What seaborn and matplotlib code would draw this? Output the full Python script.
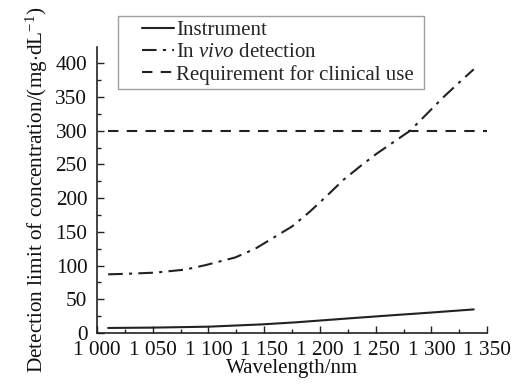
import matplotlib
matplotlib.use("Agg")
import matplotlib.pyplot as plt
from matplotlib.ticker import MultipleLocator, FuncFormatter
from matplotlib.legend_handler import HandlerLine2D
from matplotlib.lines import Line2D
import seaborn as sns
import pandas as pd

# Data
inst_wl = [1010, 1050, 1100, 1148, 1178, 1226, 1268, 1297, 1338]
inst_val = [7.5, 8, 9.4, 12.8, 15.8, 21.7, 26.7, 30, 35]

vivo_wl = [1010, 1030, 1052, 1079, 1097, 1124, 1142, 1160, 1175, 1191, 1206,
           1221, 1236, 1251, 1266, 1281, 1296, 1311, 1324, 1338]
vivo_val = [87, 88, 89.5, 94, 100.5, 112, 125, 143, 158, 180, 203,
            227, 247, 266, 283, 300, 325, 350, 370, 391]

req_wl = [1010, 1350]
req_val = [300, 300]

labels = ["Instrument", "In $\\it{vivo}$ detection", "Requirement for clinical use "]

sns.set_theme(style="ticks")
plt.rcParams['font.family'] = ['Liberation Serif', 'DejaVu Serif']
plt.rcParams['mathtext.fontset'] = 'custom'
plt.rcParams['mathtext.rm'] = 'Liberation Serif'
plt.rcParams['mathtext.it'] = 'Liberation Serif:italic'

fig = plt.figure(figsize=(5.16, 3.87), dpi=100)
ax = fig.add_axes([0.188, 0.1395, 0.756, 0.739])

df_i = pd.DataFrame({"x": inst_wl, "y": inst_val})
df_v = pd.DataFrame({"x": vivo_wl, "y": vivo_val})
df_r = pd.DataFrame({"x": req_wl, "y": req_val})

col = "#222222"
fs = 15
tfs = 15.3
sns.lineplot(data=df_i, x="x", y="y", ax=ax, color=col, lw=1.5, label=labels[0])
sns.lineplot(data=df_v, x="x", y="y", ax=ax, color=col, lw=1.5, label=labels[1])
ax.lines[-1].set_dashes([7, 3, 1.5, 3])
sns.lineplot(data=df_r, x="x", y="y", ax=ax, color=col, lw=1.5, label=labels[2])
ax.lines[-1].set_dashes([5, 4])

ax.set_xlim(1000, 1350)
ax.set_ylim(0, 424)
ax.xaxis.set_major_locator(MultipleLocator(50))
ax.xaxis.set_minor_locator(MultipleLocator(25))
ax.yaxis.set_major_locator(MultipleLocator(50))
ax.yaxis.set_minor_locator(MultipleLocator(25))
ax.xaxis.set_major_formatter(FuncFormatter(lambda v, p: f"{int(v):,}".replace(",", " ")))
ax.tick_params(which="both", direction="in", color=col, labelsize=tfs, labelcolor="#111111")
ax.tick_params(which="major", length=5, width=1)
ax.tick_params(which="minor", length=3, width=1)
ax.tick_params(axis="x", pad=6)
ax.tick_params(axis="y", pad=7)
sns.despine(ax=ax)
for s in ["left", "bottom"]:
    ax.spines[s].set_color(col)
    ax.spines[s].set_linewidth(1.2)

ax.set_xlabel("Wavelength/nm", fontsize=fs, labelpad=-1, color="#111111")
ax.set_ylabel("Detection limit of concentration/(mg$\\cdot$dL$^{-1}$)", fontsize=15.3,
              labelpad=4, color="#111111")

leg = ax.legend(loc="upper left", bbox_to_anchor=(0.054, 1.108), frameon=True,
                fancybox=False, edgecolor="#888888", fontsize=fs, handlelength=2.5,
                handletextpad=0.1, borderpad=0.2, labelspacing=0.13, borderaxespad=0,
                handler_map={Line2D: HandlerLine2D(xpad=0.95)})
leg.get_frame().set_linewidth(1.0)

fig.savefig("out.png", dpi=100)
